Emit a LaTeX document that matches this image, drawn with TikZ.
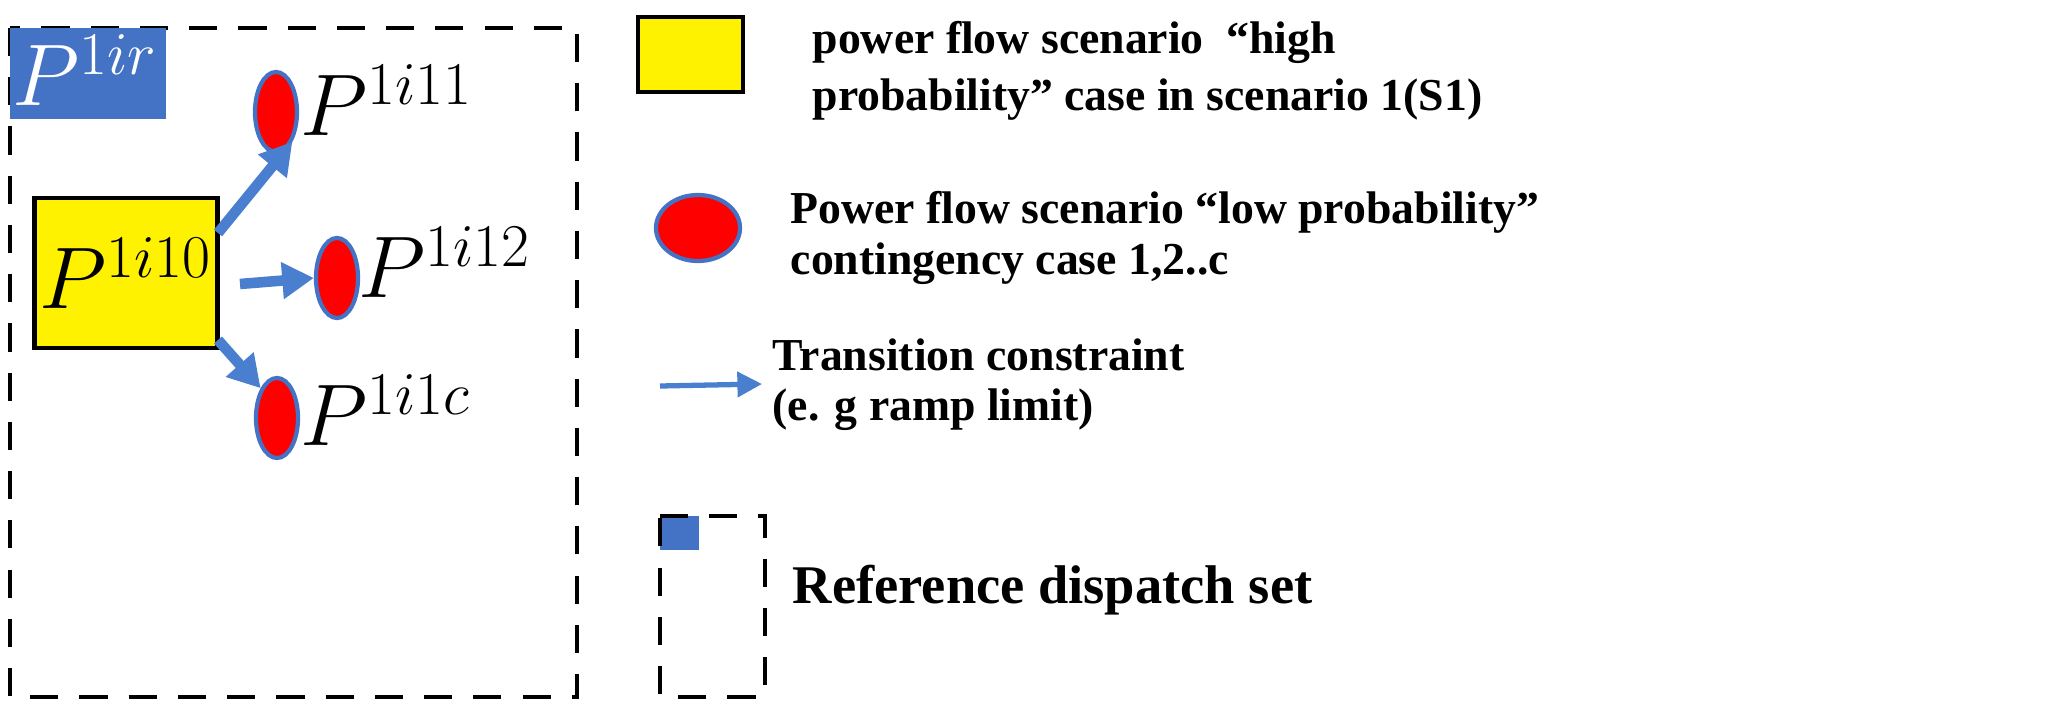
\documentclass[tikz,border=0pt]{standalone}
\usepackage{fontspec}
\setmainfont{Liberation Serif}
\usetikzlibrary{arrows.meta,shapes.geometric}
\definecolor{bl}{HTML}{4472C4}
\definecolor{ab}{HTML}{4A7FD0}
\begin{document}
\begin{tikzpicture}[x=0.01cm,y=-0.01cm,
 ell/.style={ellipse,draw=bl,line width=1.2pt,fill=red,minimum width=0.42cm,minimum height=0.8cm,inner sep=0},
 lab/.style={anchor=west,font=\fontsize{25}{28}\selectfont,inner sep=0},
 arr/.style={-{Triangle[length=9pt,width=10pt]},draw=ab,line width=3pt},
 leg/.style={anchor=west,font=\bfseries\fontsize{13}{15}\selectfont,inner sep=0},
 dbox/.style={draw,dashed,line width=1.2pt,dash pattern=on 8pt off 6pt}]
\useasboundingbox (0,0) rectangle (2049,715);
\draw[dbox] (10,28) rectangle (577,697);
\node[fill=bl,draw=bl,minimum width=1.55cm,minimum height=0.9cm,anchor=north west,inner sep=0] (tag) at (10,28) {};
\node[text=white,font=\fontsize{24}{28}\selectfont,anchor=west,inner sep=0] (tagt) at (12,70) {$P^{1ir}$};
\node[draw,line width=1.2pt,fill=yellow,minimum width=1.83cm,minimum height=1.5cm,inner sep=0,font=\fontsize{25}{28}\selectfont] (y) at (126,273) {$P^{1i10}$};
\node[ell] (e1) at (276,112) {};
\node[ell] (e2) at (337,278) {};
\node[ell] (e3) at (277,418) {};
\node[lab] (l1) at (300,100) {$P^{1i11}$};
\node[lab] (l2) at (358,262) {$P^{1i12}$};
\node[lab] (l3) at (300,410) {$P^{1i1c}$};
\coordinate (a1) at (218,233);
\coordinate (a2) at (240,284);
\coordinate (a3) at (218,340);
\draw[arr] (a1) -- (e1.south east);
\draw[arr] (a2) -- (e2.west);
\draw[arr] (a3) -- (e3.north west);
% legend
\node[draw,line width=1.2pt,fill=yellow,minimum width=1.05cm,minimum height=0.75cm,anchor=north west,inner sep=0] (ly) at (636,15) {};
\node[leg] (t1) at (812,42) {power flow scenario\ \ “high};
\node[leg] (t2) at (812,100) {probability” case in scenario 1(S1)};
\node[ellipse,draw=bl,line width=1.2pt,fill=red,minimum width=0.84cm,minimum height=0.66cm,inner sep=0] (le) at (698,228) {};
\node[leg] (t3) at (790,212) {Power flow scenario “low probability”};
\node[leg] (t4) at (790,264) {contingency case 1,2..c};
\coordinate (la1) at (660,386);
\coordinate (la2) at (762,384);
\draw[-{Triangle[length=7pt,width=7pt]},draw=ab,line width=1.5pt] (la1) -- (la2);
\node[leg] (t5) at (772,355) {Transition constraint};
\node[leg] (t6) at (772,410) {(e. g ramp limit)};
\node[fill=bl,draw=bl,minimum width=0.38cm,minimum height=0.33cm,anchor=north west,inner sep=0] (lb) at (660,516) {};
\draw[dbox] (660,516) -- (765,516) -- (765,697) -- (660,697) -- cycle;
\node[leg,font=\bfseries\fontsize{15.5}{18}\selectfont] (t7) at (792,590) {Reference dispatch set};
\end{tikzpicture}
\end{document}
